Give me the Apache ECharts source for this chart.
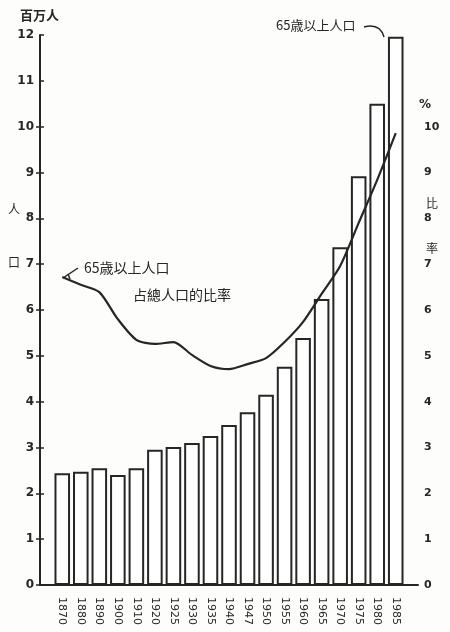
<!DOCTYPE html>
<html>
<head>
<meta charset="utf-8">
<script src="https://cdn.jsdelivr.net/npm/echarts@6/dist/echarts.min.js"></script>
<style>
html,body{margin:0;padding:0;background:#fdfdfb;}
#c{width:450px;height:632px;}
</style>
</head>
<body>
<div id="c"></div>
<script>
const years = ['1870','1880','1890','1900','1910','1920','1925','1930','1935','1940','1947','1950','1955','1960','1965','1970','1975','1980','1985'];
const elderlyMillions = [2.44,2.47,2.55,2.40,2.55,2.95,3.01,3.10,3.25,3.49,3.77,4.15,4.76,5.39,6.24,7.37,8.92,10.50,11.96];
const elderlySharePct = [6.72,6.55,6.39,5.80,5.35,5.26,5.30,5.02,4.78,4.71,4.82,4.95,5.30,5.74,6.35,6.96,7.90,8.84,9.86];
const leftAxisMax = 12;
const rightAxisMax = 10;

const ink = '#262626';
const fontNum = 'DejaVu Sans';
const cjk = '"Noto Sans CJK TC","Noto Sans CJK SC",sans-serif';

const chart = echarts.init(document.getElementById('c'), null, {renderer:'canvas'});
chart.setOption({
  backgroundColor: '#fdfdfb',
  animation: false,
  grid: [
    {left: 53, right: 45, top: 35, bottom: 47},   // data grid
    {left: 40, right: 32, top: 35, bottom: 47},   // frame grid (left axis, baseline)
    {left: 40, right: 32, top: 126.7, bottom: 47} // right % axis (0-10)
  ],
  xAxis: [
    {type: 'category', gridIndex: 0, data: years,
     axisLine: {show: false}, axisTick: {show: false},
     axisLabel: {rotate: -90, color: ink, fontFamily: fontNum, fontSize: 11, margin: 12}},
    {type: 'value', gridIndex: 1, min: 0, max: 1,
     axisLine: {show: true, lineStyle: {color: ink, width: 2}},
     axisTick: {show: false}, axisLabel: {show: false}, splitLine: {show: false}},
    {type: 'value', gridIndex: 2, min: 0, max: 1, show: false}
  ],
  yAxis: [
    {type: 'value', gridIndex: 0, min: 0, max: leftAxisMax, show: false},
    {type: 'value', gridIndex: 0, min: 0, max: leftAxisMax, show: false},
    {type: 'value', gridIndex: 1, min: 0, max: leftAxisMax, interval: 1, position: 'left',
     axisLine: {show: true, lineStyle: {color: ink, width: 2}},
     axisTick: {show: true, inside: true, length: 4, lineStyle: {color: ink, width: 1.5}},
     axisLabel: {color: ink, fontFamily: fontNum, fontWeight: 'bold', fontSize: 12, margin: 6},
     splitLine: {show: false}},
    {type: 'value', gridIndex: 2, min: 0, max: rightAxisMax, interval: 1, position: 'right',
     axisLine: {show: true, lineStyle: {color: ink, width: 2}},
     axisTick: {show: true, inside: true, length: 4, lineStyle: {color: ink, width: 1.5}},
     axisLabel: {color: ink, fontFamily: fontNum, fontWeight: 'bold', fontSize: 11, margin: 6},
     splitLine: {show: false}}
  ],
  series: [
    {type: 'bar', xAxisIndex: 0, yAxisIndex: 0, data: elderlyMillions,
     barCategoryGap: '16%',
     itemStyle: {color: '#ffffff', borderColor: ink, borderWidth: 2}},
    {type: 'line', xAxisIndex: 0, yAxisIndex: 1, data: elderlySharePct,
     smooth: 0.25, symbol: 'none', z: 5,
     lineStyle: {color: ink, width: 2.2}}
  ],
  graphic: [
    {type: 'text', left: 20, top: 9, style: {text: '百万人', font: 'bold 13px ' + cjk, fill: ink}},
    {type: 'text', left: 8, top: 203, style: {text: '人', font: '12px ' + cjk, fill: ink}},
    {type: 'text', left: 8, top: 256, style: {text: '口', font: '12px ' + cjk, fill: ink}},
    {type: 'text', left: 419, top: 99, style: {text: '%', font: 'bold 12px ' + fontNum, fill: ink}},
    {type: 'text', left: 426, top: 197, style: {text: '比', font: '12px ' + cjk, fill: ink}},
    {type: 'text', left: 426, top: 242, style: {text: '率', font: '12px ' + cjk, fill: ink}},
    {type: 'text', left: 276, top: 19, style: {text: '65歳以上人口', font: '13px ' + cjk, fill: ink}},
    {type: 'bezierCurve', shape: {x1: 364, y1: 27, x2: 384, y2: 37, cpx1: 380, cpy1: 23}, style: {stroke: ink, lineWidth: 1.5, fill: null}},
    {type: 'text', left: 84, top: 261, style: {text: '65歳以上人口', font: '14px ' + cjk, fill: ink}},
    {type: 'text', left: 133, top: 288, style: {text: '占總人口的比率', font: '14px ' + cjk, fill: ink}},
    {type: 'polyline', shape: {points: [[63, 278], [78, 268]]}, style: {stroke: ink, lineWidth: 1.5}},
    {type: 'polyline', shape: {points: [[68, 274], [70, 279]]}, style: {stroke: ink, lineWidth: 1.5}}
  ]
});
</script>
</body>
</html>
